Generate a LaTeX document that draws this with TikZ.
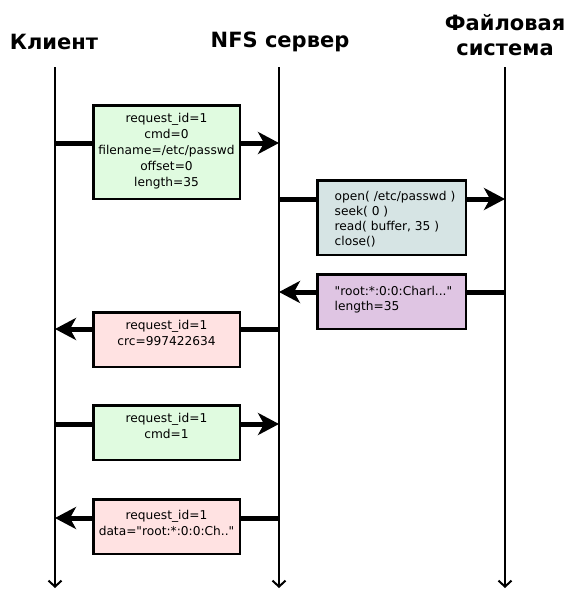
\documentclass[tikz,border=0pt]{standalone}
\usepackage{fontspec}
\setmainfont{DejaVu Sans}[Ligatures=TeXOff]
\usetikzlibrary{arrows.meta}
\definecolor{reqgreen}{HTML}{E0FBE0}
\definecolor{fsgray}{HTML}{D6E4E4}
\definecolor{fspurple}{HTML}{DFC5E3}
\definecolor{resppink}{HTML}{FFE2E2}
\begin{document}
\begin{tikzpicture}[x=1pt,y=-1pt,
  title/.style={font=\fontsize{21}{25}\selectfont\bfseries, align=center, inner sep=0pt},
  lifeline/.style={line width=2pt,-{Straight Barb[length=6pt,width=13pt,line width=2pt]}},
  msg/.style={line width=5pt,-{Stealth[length=21pt,width=22pt,inset=6pt]}},
  msgbox/.style={draw, line width=2.5pt, inner sep=0pt, minimum width=146.5pt},
  ctext/.style={font=\fontsize{12.2}{16}\selectfont, align=center, inner sep=0pt, anchor=north},
  ltext/.style={font=\fontsize{12.2}{15}\selectfont, align=left, inner sep=0pt, anchor=north west}]
\useasboundingbox (0,0) rectangle (566,589);

% titles
\node[title] (tc) at (54,42) {Клиент};
\node[title] (ts) at (280,42) {NFS сервер};
\node[title] (tf) at (505,35) {Файловая\\система};

% lifelines
\coordinate (ctop) at (55,67);   \coordinate (cbot) at (55,588);
\coordinate (stop) at (279,67);  \coordinate (sbot) at (279,588);
\coordinate (ftop) at (505,67);  \coordinate (fbot) at (505,588);
\draw[lifeline] (ctop) -- (cbot);
\draw[lifeline] (stop) -- (sbot);
\draw[lifeline] (ftop) -- (fbot);

% message end points
\coordinate (c1) at (55,143);  \coordinate (s1) at (279,143);
\coordinate (s2) at (279,199); \coordinate (f2) at (505,199);
\coordinate (f3) at (505,292); \coordinate (s3) at (279,292);
\coordinate (s4) at (279,329); \coordinate (c4) at (55,329);
\coordinate (c5) at (55,424);  \coordinate (s5) at (279,424);
\coordinate (s6) at (279,518); \coordinate (c6) at (55,518);

\draw[msg] (c1) -- (s1);
\draw[msg] (s2) -- (f2);
\draw[msg] (f3) -- (s3);
\draw[msg] (s4) -- (c4);
\draw[msg] (c5) -- (s5);
\draw[msg] (s6) -- (c6);

% boxes
\node[msgbox, fill=reqgreen, minimum height=93.5pt] (b1) at (166.5,152) {};
\node[msgbox, fill=fsgray, minimum width=148.5pt, minimum height=74.5pt] (b2) at (391.5,217.5) {};
\node[msgbox, fill=fspurple, minimum width=148.5pt, minimum height=54.5pt] (b3) at (391.5,301.5) {};
\node[msgbox, fill=resppink, minimum height=54.5pt] (b4) at (166.5,339.5) {};
\node[msgbox, fill=reqgreen, minimum height=54.5pt] (b5) at (166.5,432.5) {};
\node[msgbox, fill=resppink, minimum height=54.5pt] (b6) at (166.5,526.5) {};

% texts
\node[ctext] (t1) at ([yshift=-9.5pt]b1.north) {request\_id=1\\cmd=0\\filename=/etc/passwd\\offset=0\\length=35};
\node[ltext] (t2) at ([xshift=18.5pt,yshift=-12.5pt]b2.north west) {open( /etc/passwd )\\seek( 0 )\\read( buffer, 35 )\\close()};
\node[ltext] (t3) at ([xshift=18.5pt,yshift=-13.5pt]b3.north west) {"root:*:0:0:Charl..."\\length=35};
\node[ctext] (t4) at ([yshift=-9.5pt]b4.north) {request\_id=1\\crc=997422634};
\node[ctext] (t5) at ([yshift=-9.5pt]b5.north) {request\_id=1\\cmd=1};
\node[ctext] (t6) at ([yshift=-12pt]b6.north) {request\_id=1\\data="root:*:0:0:Ch.."};
\end{tikzpicture}
\end{document}
